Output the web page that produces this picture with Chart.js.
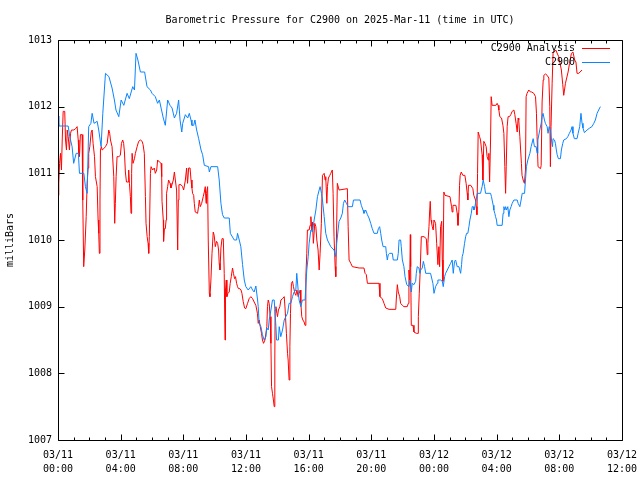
<!DOCTYPE html>
<html>
<head>
<meta charset="utf-8">
<title>Barometric Pressure for C2900</title>
<script src="https://cdn.jsdelivr.net/npm/chart.js@4.4.1/dist/chart.umd.min.js"></script>
<style>
  html, body { margin: 0; padding: 0; background: #fff; }
  #wrap { width: 640px; height: 480px; }
</style>
</head>
<body>
<div id="wrap"><canvas id="baro" width="640" height="480"></canvas></div>
<script>
// ── Data: hours since 2025-03-11 00:00 UTC, pressure in mbar ──
const analysisHours = [
  0.01, 0.05, 0.10, 0.16, 0.22, 0.27, 0.33, 0.43, 0.48, 0.54,
  0.59, 0.65, 0.73, 0.80, 0.86, 1.01, 1.12, 1.22, 1.29, 1.33,
  1.37, 1.43, 1.54, 1.58, 1.64, 1.71, 1.80, 1.86, 1.92, 1.96,
  2.03, 2.12, 2.18, 2.24, 2.33, 2.39, 2.50, 2.56, 2.60, 2.64,
  2.68, 2.71, 2.77, 2.82, 2.92, 3.03, 3.14, 3.24, 3.30, 3.35,
  3.45, 3.56, 3.62, 3.66, 3.71, 3.77, 3.88, 3.98, 4.05, 4.13,
  4.19, 4.24, 4.30, 4.37, 4.47, 4.51, 4.56, 4.62, 4.66, 4.70,
  4.73, 4.79, 4.88, 4.94, 5.05, 5.15, 5.26, 5.37, 5.43, 5.51,
  5.58, 5.62, 5.69, 5.75, 5.79, 5.83, 5.90, 5.94, 6.04, 6.15,
  6.21, 6.30, 6.36, 6.47, 6.58, 6.62, 6.64, 6.72, 6.74, 6.79,
  6.85, 6.90, 6.93, 7.00, 7.06, 7.15, 7.21, 7.28, 7.36, 7.43,
  7.49, 7.57, 7.64, 7.68, 7.72, 7.85, 7.95, 8.02, 8.13, 8.21,
  8.27, 8.34, 8.43, 8.49, 8.55, 8.59, 8.66, 8.70, 8.76, 8.91,
  8.97, 9.02, 9.08, 9.17, 9.27, 9.34, 9.40, 9.45, 9.48, 9.55,
  9.59, 9.66, 9.70, 9.76, 9.83, 9.91, 9.97, 10.04, 10.12, 10.19,
  10.25, 10.29, 10.34, 10.40, 10.47, 10.55, 10.61, 10.66, 10.69, 10.74,
  10.78, 10.85, 10.93, 10.99, 11.06, 11.14, 11.20, 11.27, 11.33, 11.40,
  11.46, 11.52, 11.61, 11.68, 11.74, 11.82, 11.91, 11.99, 12.10, 12.20,
  12.31, 12.42, 12.52, 12.63, 12.73, 12.78, 12.84, 12.91, 12.99, 13.05,
  13.12, 13.21, 13.27, 13.33, 13.37, 13.42, 13.48, 13.54, 13.59, 13.63,
  13.69, 13.75, 13.80, 13.84, 13.86, 13.91, 13.97, 14.01, 14.07, 14.16,
  14.23, 14.33, 14.44, 14.50, 14.58, 14.65, 14.69, 14.75, 14.80, 14.84,
  14.90, 14.97, 15.03, 15.12, 15.18, 15.25, 15.33, 15.39, 15.46, 15.50,
  15.56, 15.63, 15.71, 15.77, 15.82, 15.88, 15.92, 16.03, 16.09, 16.14,
  16.20, 16.24, 16.30, 16.39, 16.46, 16.52, 16.60, 16.67, 16.73, 16.81,
  16.88, 16.99, 17.05, 17.09, 17.16, 17.20, 17.26, 17.35, 17.41, 17.51,
  17.56, 17.62, 17.69, 17.73, 17.77, 17.83, 17.94, 18.47, 18.52, 18.58,
  18.69, 18.79, 19.22, 19.53, 19.60, 19.68, 19.75, 20.49, 20.55, 20.70,
  20.81, 20.92, 21.13, 21.56, 21.59, 21.66, 21.72, 21.81, 21.87, 21.98,
  22.08, 22.29, 22.36, 22.40, 22.45, 22.49, 22.51, 22.55, 22.66, 22.72,
  22.87, 22.98, 23.00, 23.06, 23.12, 23.19, 23.36, 23.51, 23.57, 23.61,
  23.68, 23.72, 23.76, 23.81, 23.85, 23.89, 23.95, 24.00, 24.10, 24.17,
  24.25, 24.31, 24.36, 24.42, 24.49, 24.53, 24.57, 24.63, 24.70, 25.02,
  25.12, 25.16, 25.21, 25.40, 25.48, 25.53, 25.59, 25.63, 25.67, 25.74,
  25.84, 25.97, 26.05, 26.12, 26.16, 26.20, 26.35, 26.48, 26.54, 26.65,
  26.69, 26.74, 26.78, 26.82, 26.91, 26.97, 27.07, 27.12, 27.18, 27.25,
  27.33, 27.39, 27.46, 27.50, 27.55, 27.61, 27.65, 27.71, 27.95, 28.03,
  28.09, 28.14, 28.20, 28.31, 28.40, 28.46, 28.52, 28.57, 28.61, 28.67,
  28.73, 28.82, 28.90, 28.99, 29.10, 29.16, 29.24, 29.31, 29.37, 29.41,
  29.48, 29.58, 29.62, 29.69, 29.77, 29.84, 29.88, 29.94, 30.05, 30.16,
  30.24, 30.37, 30.48, 30.54, 30.58, 30.64, 30.80, 30.84, 30.90, 30.97,
  31.01, 31.12, 31.22, 31.33, 31.39, 31.43, 31.47, 31.54, 31.60, 31.77,
  31.96, 32.13, 32.22, 32.28, 32.39, 32.56, 32.65, 32.77, 32.87, 32.98,
  33.06, 33.13, 33.24, 33.45
];
const analysisMbar = [
  1010.67, 1010.85, 1011.15, 1011.30, 1011.05, 1011.50, 1011.93, 1011.93, 1011.50, 1011.35,
  1011.65, 1011.55, 1011.35, 1011.60, 1011.65, 1011.65, 1011.67, 1011.70, 1011.50, 1011.30,
  1011.25, 1011.58, 1011.58, 1010.60, 1009.60, 1009.85, 1010.35, 1010.85, 1011.08, 1011.30,
  1011.40, 1011.62, 1011.65, 1011.45, 1011.25, 1010.95, 1010.80, 1010.30, 1010.10, 1009.80,
  1010.60, 1011.35, 1011.40, 1011.35, 1011.37, 1011.40, 1011.45, 1011.65, 1011.60, 1011.50,
  1011.40, 1010.95, 1010.25, 1010.55, 1010.95, 1011.25, 1011.25, 1011.27, 1011.45, 1011.50,
  1011.45, 1011.32, 1011.02, 1010.87, 1010.87, 1011.05, 1010.85, 1010.65, 1010.40, 1011.00,
  1011.30, 1011.15, 1011.22, 1011.30, 1011.40, 1011.48, 1011.50, 1011.48, 1011.43, 1011.30,
  1010.65, 1010.25, 1010.05, 1009.95, 1009.80, 1010.05, 1011.00, 1011.10, 1011.05, 1011.08,
  1011.00, 1011.05, 1011.20, 1011.17, 1011.15, 1010.95, 1010.58, 1010.30, 1009.98, 1010.17,
  1010.17, 1010.30, 1010.70, 1010.80, 1010.90, 1010.85, 1010.78, 1010.83, 1010.90, 1011.02,
  1010.90, 1010.75, 1009.85, 1010.60, 1010.83, 1010.83, 1010.80, 1010.75, 1010.90, 1011.08,
  1010.85, 1011.08, 1011.08, 1010.90, 1010.78, 1010.70, 1010.67, 1010.55, 1010.42, 1010.40,
  1010.50, 1010.60, 1010.50, 1010.55, 1010.65, 1010.72, 1010.80, 1010.55, 1010.70, 1010.80,
  1010.00, 1009.20, 1009.15, 1009.40, 1009.80, 1010.12, 1010.07, 1009.90, 1009.98, 1009.95,
  1009.85, 1009.65, 1009.55, 1009.88, 1010.02, 1010.02, 1009.50, 1008.50, 1009.25, 1009.40,
  1009.15, 1009.20, 1009.22, 1009.35, 1009.45, 1009.58, 1009.50, 1009.42, 1009.45, 1009.35,
  1009.30, 1009.27, 1009.27, 1009.25, 1009.20, 1009.08, 1008.98, 1008.97, 1009.05, 1009.12,
  1009.15, 1009.12, 1009.07, 1009.02, 1008.90, 1008.75, 1008.80, 1008.70, 1008.60, 1008.50,
  1008.45, 1008.50, 1008.60, 1008.70, 1009.00, 1009.10, 1009.05, 1008.85, 1008.45, 1007.80,
  1007.70, 1007.60, 1007.50, 1008.20, 1008.95, 1009.00, 1008.90, 1008.85, 1008.95, 1009.00,
  1009.10, 1009.12, 1009.15, 1008.95, 1008.60, 1008.30, 1008.20, 1007.90, 1008.40, 1008.90,
  1009.35, 1009.38, 1009.30, 1009.20, 1009.17, 1009.25, 1009.15, 1009.20, 1009.25, 1009.05,
  1008.85, 1008.80, 1008.77, 1008.72, 1009.45, 1009.80, 1010.15, 1010.15, 1010.22, 1010.35,
  1010.15, 1010.27, 1009.95, 1010.25, 1010.20, 1010.00, 1009.85, 1009.55, 1009.80, 1010.25,
  1010.97, 1011.00, 1010.90, 1010.95, 1010.55, 1010.80, 1010.93, 1010.97, 1011.00, 1011.05,
  1010.70, 1010.05, 1009.60, 1009.45, 1009.95, 1010.85, 1010.75, 1010.77, 1010.20, 1009.70,
  1009.65, 1009.60, 1009.58, 1009.58, 1009.50, 1009.48, 1009.35, 1009.35, 1009.15, 1009.12,
  1009.05, 1008.98, 1008.96, 1008.96, 1009.10, 1009.33, 1009.22, 1009.15, 1009.05, 1009.02,
  1009.00, 1009.00, 1009.05, 1009.55, 1009.40, 1010.08, 1009.60, 1008.72, 1008.72, 1008.62,
  1008.60, 1008.60, 1008.85, 1009.20, 1009.55, 1010.05, 1010.05, 1010.02, 1009.78, 1009.95,
  1010.20, 1010.42, 1010.58, 1010.30, 1010.25, 1010.20, 1010.15, 1010.30, 1010.25, 1009.95,
  1009.63, 1009.90, 1009.60, 1010.20, 1010.28, 1009.70, 1009.38, 1010.72, 1010.67, 1010.65,
  1010.50, 1010.42, 1010.52, 1010.52, 1010.40, 1010.22, 1010.45, 1010.82, 1010.97, 1011.02,
  1010.97, 1010.97, 1010.85, 1010.70, 1010.60, 1010.82, 1010.82, 1010.77, 1010.67, 1010.60,
  1010.50, 1010.38, 1011.00, 1011.62, 1011.55, 1011.50, 1011.28, 1010.90, 1011.48, 1011.45,
  1011.40, 1011.25, 1011.20, 1011.30, 1010.87, 1011.50, 1012.15, 1012.02, 1012.02, 1012.05,
  1012.02, 1011.95, 1011.85, 1011.83, 1011.72, 1011.60, 1011.10, 1010.70, 1011.10, 1011.70,
  1011.85, 1011.85, 1011.88, 1011.93, 1011.95, 1011.88, 1011.75, 1011.62, 1011.83, 1011.80,
  1011.55, 1011.15, 1010.97, 1010.90, 1010.85, 1011.05, 1012.15, 1012.20, 1012.25, 1012.22,
  1012.22, 1012.20, 1012.15, 1011.90, 1011.55, 1011.10, 1011.07, 1011.12, 1012.07, 1012.40,
  1012.47, 1012.49, 1012.47, 1012.43, 1012.00, 1011.10, 1011.70, 1012.35, 1012.80, 1012.85,
  1012.75, 1012.55, 1012.33, 1012.17, 1012.35, 1012.52, 1012.65, 1012.80, 1012.82, 1012.70,
  1012.67, 1012.50, 1012.50, 1012.55
];

const sensorHours = [
  0.00, 0.05, 0.65, 0.75, 0.90, 1.00, 1.16, 1.30, 1.37, 1.65,
  1.75, 1.86, 1.96, 2.10, 2.18, 2.30, 2.50, 2.60, 2.75, 2.86,
  3.03, 3.25, 3.45, 3.60, 3.70, 3.88, 4.03, 4.20, 4.41, 4.55,
  4.77, 4.88, 4.98, 5.10, 5.26, 5.53, 5.68, 5.90, 6.00, 6.21,
  6.36, 6.47, 6.58, 6.72, 6.85, 7.00, 7.15, 7.28, 7.43, 7.57,
  7.70, 7.79, 7.90, 7.96, 8.13, 8.28, 8.38, 8.49, 8.55, 8.66,
  8.74, 8.85, 8.98, 9.13, 9.23, 9.34, 9.61, 9.66, 9.76, 10.19,
  10.29, 10.40, 10.50, 10.61, 10.93, 11.00, 11.25, 11.40, 11.46, 11.57,
  11.67, 11.78, 11.89, 11.99, 12.14, 12.31, 12.42, 12.52, 12.63, 12.74,
  12.78, 12.84, 12.95, 13.05, 13.16, 13.27, 13.33, 13.42, 13.48, 13.59,
  13.69, 13.80, 13.91, 13.95, 14.07, 14.12, 14.22, 14.33, 14.44, 14.54,
  14.65, 14.75, 14.86, 14.97, 15.07, 15.18, 15.24, 15.33, 15.39, 15.50,
  15.60, 15.77, 15.88, 15.97, 16.03, 16.14, 16.24, 16.35, 16.46, 16.56,
  16.67, 16.73, 16.82, 16.88, 16.99, 17.09, 17.20, 17.41, 17.62, 17.73,
  17.79, 17.88, 17.94, 18.05, 18.15, 18.22, 18.30, 18.41, 18.52, 18.79,
  18.86, 19.28, 19.36, 19.47, 19.53, 19.64, 19.75, 19.85, 19.96, 20.06,
  20.17, 20.38, 20.45, 20.53, 20.60, 20.66, 20.75, 20.92, 20.96, 21.02,
  21.08, 21.17, 21.34, 21.40, 21.66, 21.72, 21.77, 21.87, 21.91, 21.98,
  22.08, 22.15, 22.26, 22.40, 22.47, 22.55, 22.61, 22.72, 22.83, 22.87,
  22.93, 23.04, 23.10, 23.15, 23.25, 23.32, 23.40, 23.47, 23.78, 23.85,
  23.93, 24.00, 24.10, 24.21, 24.25, 24.42, 24.53, 24.59, 24.68, 24.74,
  24.85, 24.95, 25.06, 25.16, 25.23, 25.31, 25.38, 25.48, 25.59, 25.70,
  25.76, 25.80, 25.86, 25.95, 26.02, 26.08, 26.16, 26.23, 26.29, 26.38,
  26.44, 26.50, 26.55, 26.61, 26.69, 26.76, 26.97, 27.07, 27.14, 27.18,
  27.23, 27.29, 27.61, 27.67, 27.71, 27.78, 27.82, 27.88, 27.93, 27.99,
  28.03, 28.35, 28.41, 28.46, 28.52, 28.57, 28.63, 28.71, 28.78, 28.84,
  28.92, 28.99, 29.10, 29.31, 29.37, 29.48, 29.56, 29.63, 29.78, 29.84,
  29.90, 29.99, 30.12, 30.20, 30.33, 30.41, 30.52, 30.58, 30.63, 30.75,
  30.84, 30.90, 30.96, 31.05, 31.11, 31.22, 31.28, 31.35, 31.43, 31.50,
  31.56, 31.60, 31.69, 31.75, 31.81, 31.86, 31.94, 32.07, 32.13, 32.22,
  32.28, 32.45, 32.54, 32.64, 32.75, 32.81, 32.87, 32.96, 33.13, 33.20,
  33.30, 33.38, 33.45, 33.51, 33.60, 33.77, 33.94, 34.08, 34.20, 34.30,
  34.41, 34.51, 34.62
];
const sensorMbar = [
  1011.86, 1011.71, 1011.71, 1011.55, 1011.40, 1011.15, 1011.30, 1011.30, 1011.00, 1011.00,
  1010.80, 1010.70, 1011.70, 1011.75, 1011.90, 1011.75, 1011.78, 1011.65, 1011.40, 1011.90,
  1012.50, 1012.45, 1012.28, 1012.10, 1011.95, 1011.85, 1012.10, 1012.02, 1012.20, 1012.12,
  1012.30, 1012.25, 1012.80, 1012.70, 1012.52, 1012.52, 1012.30, 1012.25, 1012.20, 1012.15,
  1012.05, 1012.10, 1011.98, 1011.83, 1011.72, 1012.10, 1012.02, 1011.98, 1011.83, 1011.90,
  1012.10, 1011.80, 1011.62, 1011.75, 1011.88, 1011.83, 1011.90, 1011.80, 1011.72, 1011.72,
  1011.80, 1011.65, 1011.52, 1011.35, 1011.28, 1011.12, 1011.10, 1011.02, 1011.10, 1011.10,
  1010.90, 1010.55, 1010.38, 1010.33, 1010.33, 1010.10, 1010.00, 1010.00, 1010.10, 1010.00,
  1009.90, 1009.63, 1009.40, 1009.30, 1009.25, 1009.30, 1009.25, 1009.22, 1009.31, 1009.10,
  1009.00, 1008.75, 1008.70, 1008.58, 1008.50, 1008.55, 1008.68, 1008.65, 1008.80, 1008.95,
  1009.10, 1009.10, 1008.70, 1008.50, 1008.50, 1008.70, 1008.55, 1008.65, 1008.80, 1008.85,
  1008.90, 1009.05, 1009.05, 1009.15, 1009.22, 1009.25, 1009.50, 1009.25, 1009.10, 1009.00,
  1009.10, 1009.10, 1009.55, 1009.75, 1009.95, 1010.15, 1010.12, 1010.30, 1010.45, 1010.65,
  1010.75, 1010.80, 1010.70, 1010.60, 1010.35, 1010.10, 1010.00, 1009.90, 1009.85, 1009.75,
  1009.95, 1010.15, 1010.28, 1010.33, 1010.40, 1010.55, 1010.60, 1010.55, 1010.50, 1010.50,
  1010.60, 1010.60, 1010.52, 1010.45, 1010.40, 1010.45, 1010.38, 1010.33, 1010.25, 1010.17,
  1010.10, 1010.10, 1010.17, 1010.20, 1010.10, 1010.00, 1009.90, 1009.90, 1009.80, 1009.70,
  1009.78, 1009.80, 1009.80, 1009.70, 1009.70, 1009.80, 1010.00, 1010.00, 1009.90, 1009.70,
  1009.60, 1009.45, 1009.33, 1009.30, 1009.40, 1009.22, 1009.35, 1009.33, 1009.38, 1009.50,
  1009.60, 1009.58, 1009.50, 1009.55, 1009.58, 1009.68, 1009.60, 1009.50, 1009.50, 1009.43,
  1009.35, 1009.20, 1009.30, 1009.35, 1009.40, 1009.40, 1009.38, 1009.30, 1009.45, 1009.50,
  1009.55, 1009.60, 1009.65, 1009.70, 1009.50, 1009.68, 1009.70, 1009.60, 1009.60, 1009.50,
  1009.63, 1009.75, 1009.80, 1009.95, 1010.05, 1010.10, 1010.10, 1010.20, 1010.30, 1010.40,
  1010.50, 1010.50, 1010.45, 1010.50, 1010.60, 1010.70, 1010.70, 1010.80, 1010.90, 1010.90,
  1010.80, 1010.70, 1010.70, 1010.65, 1010.60, 1010.52, 1010.45, 1010.40, 1010.35, 1010.30,
  1010.22, 1010.22, 1010.40, 1010.50, 1010.45, 1010.50, 1010.45, 1010.50, 1010.35, 1010.45,
  1010.50, 1010.55, 1010.60, 1010.60, 1010.55, 1010.50, 1010.60, 1010.70, 1010.70, 1010.90,
  1011.10, 1011.20, 1011.30, 1011.40, 1011.52, 1011.40, 1011.40, 1011.30, 1011.50, 1011.65,
  1011.75, 1011.85, 1011.90, 1011.80, 1011.75, 1011.70, 1011.60, 1011.70, 1011.65, 1011.50,
  1011.40, 1011.52, 1011.50, 1011.45, 1011.35, 1011.28, 1011.22, 1011.22, 1011.35, 1011.45,
  1011.50, 1011.52, 1011.55, 1011.60, 1011.65, 1011.70, 1011.60, 1011.52, 1011.52, 1011.60,
  1011.70, 1011.90, 1011.75, 1011.68, 1011.61, 1011.65, 1011.68, 1011.70, 1011.75, 1011.80,
  1011.90, 1011.95, 1012.00
];

// ── Axis labels ──
const xTickLabels = [
  ['03/11', '00:00'], ['03/11', '04:00'], ['03/11', '08:00'], ['03/11', '12:00'],
  ['03/11', '16:00'], ['03/11', '20:00'], ['03/12', '00:00'], ['03/12', '04:00'],
  ['03/12', '08:00'], ['03/12', '12:00']
];
const yTickLabels = ['1007', '1008', '1009', '1010', '1011', '1012', '1013'];

const FONT = "'DejaVu Sans Mono', 'Liberation Mono', monospace";
const TITLE = 'Barometric Pressure for C2900 on 2025-Mar-11 (time in UTC)';

function toPoints(xs, ys) {
  return xs.map((h, i) => ({ x: h, y: ys[i] }));
}

// ── gnuplot-ish frame: box, inward ticks, title, key ──
const gnuFrame = {
  id: 'gnuFrame',
  afterDatasetsDraw(chart) {
    const { ctx, chartArea: a, scales: { x, y } } = chart;
    const L = Math.round(a.left) + 0.5, R = Math.round(a.right) + 0.5;
    const T = Math.round(a.top) + 0.5,  B = Math.round(a.bottom) + 0.5;

    ctx.save();
    ctx.strokeStyle = '#000';
    ctx.lineWidth = 1;
    ctx.beginPath();
    ctx.rect(L, T, R - L, B - T);
    // hourly minor ticks, major every 4 h
    for (let h = x.min; h <= x.max; h++) {
      const px = Math.round(x.getPixelForValue(h)) + 0.5;
      const len = h % 4 === 0 ? 6 : 3;
      ctx.moveTo(px, B); ctx.lineTo(px, B - len);
      ctx.moveTo(px, T); ctx.lineTo(px, T + len);
    }
    for (let v = y.min; v <= y.max; v++) {
      const py = Math.round(y.getPixelForValue(v)) + 0.5;
      ctx.moveTo(L, py); ctx.lineTo(L + 6, py);
      ctx.moveTo(R, py); ctx.lineTo(R - 6, py);
    }
    ctx.stroke();

    ctx.fillStyle = '#000';
    ctx.font = '10px ' + FONT;
    ctx.textBaseline = 'middle';
    ctx.textAlign = 'center';
    ctx.fillText(TITLE, (a.left + a.right) / 2, 20);

    // key (top right)
    ctx.textAlign = 'right';
    chart.data.datasets.forEach((ds, i) => {
      const ky = 48 + i * 14;
      ctx.fillStyle = '#000';
      ctx.fillText(ds.label, a.right - 47, ky);
      ctx.strokeStyle = ds.borderColor;
      ctx.beginPath();
      ctx.moveTo(a.right - 40, ky + 0.5);
      ctx.lineTo(a.right - 12, ky + 0.5);
      ctx.stroke();
    });
    ctx.restore();
  }
};

new Chart(document.getElementById('baro'), {
  type: 'line',
  data: {
    datasets: [
      {
        label: 'C2900 Analysis',
        data: toPoints(analysisHours, analysisMbar),
        borderColor: '#ff0000',
        borderWidth: 1,
        pointRadius: 0,
        tension: 0,
        fill: false,
        order: 2,
      },
      {
        label: 'C2900',
        data: toPoints(sensorHours, sensorMbar),
        borderColor: '#0a84ff',
        borderWidth: 1,
        pointRadius: 0,
        tension: 0,
        fill: false,
        order: 1,
      },
    ],
  },
  options: {
    responsive: false,
    animation: false,
    devicePixelRatio: 1,
    events: [],
    layout: { padding: { top: 40, right: 18, left: 0, bottom: 0 } },
    plugins: {
      legend:  { display: false },
      title:   { display: false },
      tooltip: { enabled: false },
    },
    scales: {
      x: {
        type: 'linear',
        min: 0,
        max: 36,
        // fixed box height; keep edge labels from squeezing the plot
        afterFit: s => { s.height = 40; s.paddingLeft = 10; s.paddingRight = 10; },
        grid:   { display: false, drawTicks: false },
        border: { display: false },
        ticks: {
          stepSize: 4,
          autoSkip: false,
          maxRotation: 0,
          padding: 8,
          color: '#000',
          font: { family: FONT, size: 10, lineHeight: 1.4 },
          callback: v => xTickLabels[v / 4] || '',
        },
      },
      y: {
        min: 1007,
        max: 1013,
        afterFit: s => { s.width = 58; s.paddingTop = 0; s.paddingBottom = 0; },
        grid:   { display: false, drawTicks: false },
        border: { display: false },
        ticks: {
          stepSize: 1,
          padding: 6,
          color: '#000',
          font: { family: FONT, size: 10 },
          callback: v => yTickLabels[v - 1007],
        },
        title: {
          display: true,
          text: 'milliBars',
          color: '#000',
          padding: { top: 4, bottom: 4 },
          font: { family: FONT, size: 10 },
        },
      },
    },
  },
  plugins: [gnuFrame],
});
</script>
</body>
</html>
